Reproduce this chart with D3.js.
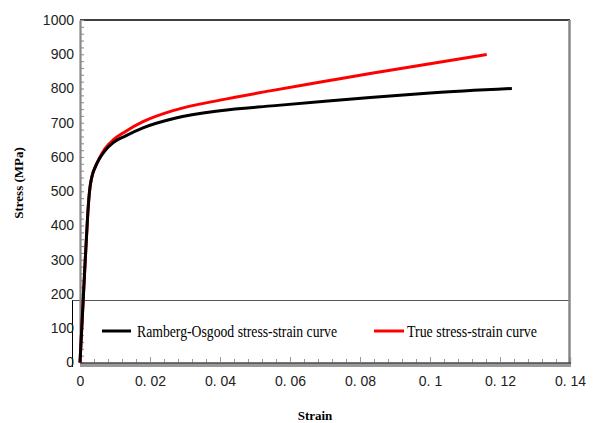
<!DOCTYPE html>
<html>
<head>
<meta charset="utf-8">
<script src="https://cdn.jsdelivr.net/npm/d3@7"></script>
<style>
  body { margin: 0; background: #fff; }
  svg { display: block; }
</style>
</head>
<body>
<svg id="chart" width="595" height="423"></svg>
<script>
// values
const roStrain = [0, 0.0005, 0.001, 0.0015, 0.0019, 0.0022, 0.0025, 0.0029, 0.0032, 0.0036, 0.0043, 0.0055, 0.0071, 0.0095, 0.0129, 0.018, 0.0271, 0.04, 0.0557, 0.07, 0.0829, 0.1, 0.1234];
const roStress = [0, 100, 200, 300, 375, 430, 475, 515, 533, 550, 569, 594, 618, 642, 661, 685, 713, 735, 750, 763, 774, 787, 800];

const trueStrain = [0, 0.0005, 0.001, 0.0015, 0.0019, 0.0022, 0.0025, 0.0029, 0.0032, 0.0036, 0.0043, 0.0055, 0.0071, 0.0095, 0.0129, 0.018, 0.0271, 0.04, 0.0543, 0.07, 0.0829, 0.1, 0.1162];
const trueStress = [0, 100, 200, 300, 375, 430, 475, 515, 533, 551, 570, 596, 624, 650, 674, 703, 737, 766, 793, 821, 844, 872, 899];

const xTicks = [0, 0.02, 0.04, 0.06, 0.08, 0.1, 0.12, 0.14];
const xTickLabels = ["0", "0. 02", "0. 04", "0. 06", "0. 08", "0. 1", "0. 12", "0. 14"];
const yTicks = [0, 100, 200, 300, 400, 500, 600, 700, 800, 900, 1000];

const seriesNames = ["Ramberg-Osgood stress-strain curve", "True stress-strain curve"];
const seriesColors = ["#000000", "#ff0000"];

const svg = d3.select("#chart");

const x = d3.scaleLinear().domain([0, 0.14]).range([80, 570]);
const y = d3.scaleLinear().domain([0, 1000]).range([362.5, 20]);

/* legend box (sits inside the plot, no fill) */
svg.append("line")
  .attr("x1", 72).attr("x2", 569).attr("y1", 300.5).attr("y2", 300.5)
  .attr("stroke", "#555").attr("stroke-width", 1.2);
svg.append("line")
  .attr("x1", 72.5).attr("x2", 72.5).attr("y1", 300.5).attr("y2", 367)
  .attr("stroke", "#000").attr("stroke-width", 1);

/* frame */
svg.append("line")
  .attr("x1", 80).attr("x2", 570).attr("y1", 20).attr("y2", 20)
  .attr("stroke", "#000").attr("stroke-width", 1.5);
svg.append("line")
  .attr("x1", 569.5).attr("x2", 569.5).attr("y1", 20).attr("y2", 367)
  .attr("stroke", "#888").attr("stroke-width", 2.5);
svg.append("rect")
  .attr("x", 80).attr("y", 362.5).attr("width", 491).attr("height", 4.5)
  .attr("fill", "#999");

/* y axis */
const yMinor = svg.append("g")
  .attr("transform", "translate(80,0)")
  .call(d3.axisLeft(y).tickValues(d3.range(0, 1001, 20)).tickSize(-4).tickFormat(""));
yMinor.select(".domain").remove();
yMinor.selectAll("line").attr("stroke", "#999").attr("stroke-width", 1.2);

const yAxis = svg.append("g")
  .attr("transform", "translate(80,0)")
  .call(d3.axisLeft(y).tickValues(yTicks).tickSize(0).tickPadding(6).tickFormat(d3.format("d")));
yAxis.select(".domain").attr("stroke", "#888").attr("stroke-width", 2.2);
yAxis.selectAll("text")
  .attr("font-family", "Liberation Sans, Arial, sans-serif")
  .attr("font-size", 14)
  .attr("fill", "#222");

/* x axis */
const xMinor = svg.append("g")
  .attr("transform", "translate(0,362.5)")
  .call(d3.axisBottom(x).tickValues(d3.range(0, 35).map(i => i * 0.004)).tickSize(-3.5).tickFormat(""));
xMinor.select(".domain").remove();
xMinor.selectAll("line").attr("stroke", "#999").attr("stroke-width", 1);

const xAxis = svg.append("g")
  .attr("transform", "translate(0,362.5)")
  .call(d3.axisBottom(x).tickValues(xTicks).tickSize(-5.5)
    .tickFormat((d, i) => xTickLabels[i]).tickPadding(14));
xAxis.select(".domain").attr("stroke", "#222").attr("stroke-width", 1.2);
xAxis.selectAll("line").attr("stroke", "#999").attr("stroke-width", 1);
xAxis.selectAll("text")
  .attr("font-family", "Liberation Sans, Arial, sans-serif")
  .attr("font-size", 14)
  .attr("fill", "#222");

/* axis titles */
svg.append("text")
  .attr("x", 315).attr("y", 420)
  .attr("text-anchor", "middle")
  .attr("font-family", "Liberation Serif, Times New Roman, serif")
  .attr("font-weight", "bold")
  .attr("font-size", 13)
  .text("Strain");

svg.append("text")
  .attr("transform", "translate(23,183) rotate(-90)")
  .attr("text-anchor", "middle")
  .attr("font-family", "Liberation Serif, Times New Roman, serif")
  .attr("font-weight", "bold")
  .attr("font-size", 13)
  .text("Stress (MPa)");

/* curves: red under black */
const line = d3.line().x(d => x(d[0])).y(d => y(d[1])).curve(d3.curveMonotoneX);

const trueData = trueStrain.map((s, i) => [s, trueStress[i]]);
const roData = roStrain.map((s, i) => [s, roStress[i]]);

svg.append("path")
  .datum(trueData)
  .attr("d", line)
  .attr("fill", "none")
  .attr("stroke", seriesColors[1])
  .attr("stroke-width", 3);

svg.append("path")
  .datum(roData)
  .attr("d", line)
  .attr("fill", "none")
  .attr("stroke", seriesColors[0])
  .attr("stroke-width", 3);

/* legend entries */
const legendItems = [
  { x1: 102, x2: 131, tx: 137, len: 200 },
  { x1: 374, x2: 404, tx: 407, len: 130 }
];

legendItems.forEach((it, i) => {
  svg.append("line")
    .attr("x1", it.x1).attr("x2", it.x2).attr("y1", 331).attr("y2", 331)
    .attr("stroke", seriesColors[i]).attr("stroke-width", 3);
  svg.append("text")
    .attr("x", it.tx).attr("y", 337)
    .attr("font-family", "Liberation Serif, Times New Roman, serif")
    .attr("font-size", 16)
    .attr("textLength", it.len)
    .attr("lengthAdjust", "spacingAndGlyphs")
    .text(seriesNames[i]);
});
</script>
</body>
</html>
